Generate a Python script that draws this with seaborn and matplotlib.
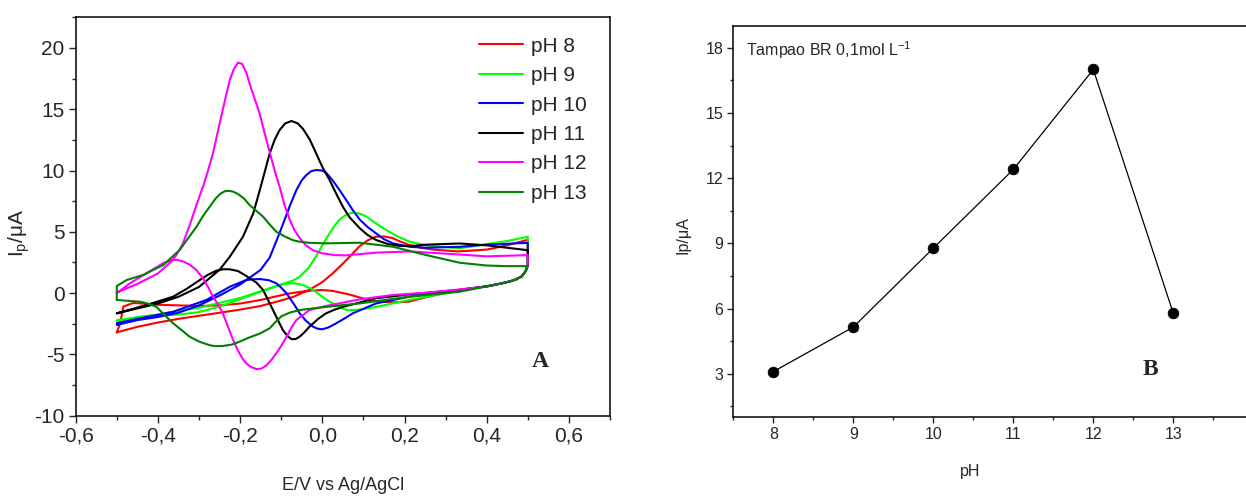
import numpy as np
import pandas as pd
import matplotlib
matplotlib.use("Agg")
import matplotlib.pyplot as plt
import seaborn as sns
from matplotlib.ticker import MultipleLocator

# ---------------- data ----------------
# Panel A: cyclic voltammograms (E in V, I in uA), forward sweep then reverse sweep
E_ph8 = [-0.5, -0.45, -0.4, -0.35, -0.3, -0.25, -0.2, -0.15, -0.1, -0.07, -0.03, 0.0, 0.025, 0.05, 0.07, 0.09,
         0.11, 0.13, 0.15, 0.17, 0.19, 0.21, 0.24, 0.27, 0.33, 0.4, 0.45, 0.5,
         0.5, 0.495, 0.485, 0.47, 0.456, 0.43, 0.4, 0.33, 0.27, 0.21, 0.18, 0.15, 0.12, 0.09, 0.07, 0.05, 0.025,
         0.0, -0.03, -0.06, -0.087, -0.15, -0.2, -0.25, -0.3, -0.35, -0.4, -0.46, -0.484, -0.492, -0.5]
I_ph8 = [-3.2, -2.75, -2.4, -2.1, -1.85, -1.6, -1.35, -1.05, -0.6, -0.3, 0.3, 0.9, 1.6, 2.4, 3.1, 3.8,
         4.3, 4.6, 4.62, 4.5, 4.2, 3.95, 3.7, 3.55, 3.4, 3.55, 3.9, 4.35,
         2.3, 1.8, 1.36, 1.1, 0.95, 0.75, 0.55, 0.25, -0.2, -0.7, -0.75, -0.72, -0.6, -0.35, -0.15, 0.0, 0.18,
         0.25, 0.2, 0.07, -0.07, -0.56, -0.85, -1.0, -1.05, -1.0, -0.95, -0.8, -1.1, -2.5, -3.2]

E_ph9 = [-0.5, -0.45, -0.4, -0.35, -0.3, -0.25, -0.2, -0.15, -0.1, -0.07, -0.055, -0.035, -0.015, 0.0, 0.018,
         0.03, 0.042, 0.058, 0.074, 0.09, 0.107, 0.13, 0.155, 0.185, 0.212, 0.252, 0.334, 0.4, 0.45, 0.5,
         0.5, 0.495, 0.485, 0.47, 0.456, 0.43, 0.4, 0.334, 0.212, 0.131, 0.09, 0.06, 0.04, 0.018, 0.0, -0.015,
         -0.03, -0.047, -0.063, -0.079, -0.095, -0.112, -0.13, -0.152, -0.2, -0.25, -0.3, -0.35, -0.4, -0.45, -0.5]
I_ph9 = [-2.3, -1.95, -1.75, -1.45, -1.2, -0.8, -0.4, 0.15, 0.7, 1.05, 1.34, 2.0, 3.0, 3.9, 4.9,
         5.5, 6.0, 6.4, 6.56, 6.5, 6.25, 5.7, 5.15, 4.6, 4.2, 3.9, 3.65, 4.0, 4.25, 4.6,
         2.3, 1.8, 1.36, 1.1, 0.95, 0.75, 0.55, 0.2, -0.56, -1.12, -1.35, -1.4, -1.1, -0.7, -0.3, 0.1,
         0.4, 0.66, 0.78, 0.8, 0.72, 0.58, 0.35, 0.1, -0.5, -1.1, -1.55, -1.75, -1.85, -2.0, -2.2]

E_ph10 = [-0.5, -0.45, -0.4, -0.35, -0.3, -0.25, -0.2, -0.15, -0.128, -0.104, -0.092, -0.078, -0.063, -0.05,
          -0.039, -0.027, -0.015, 0.0, 0.01, 0.025, 0.042, 0.058, 0.074, 0.091, 0.11, 0.131, 0.15, 0.172, 0.212,
          0.252, 0.334, 0.4, 0.5,
          0.5, 0.495, 0.485, 0.47, 0.456, 0.43, 0.4, 0.334, 0.212, 0.131, 0.074, 0.055, 0.034, 0.015, 0.0, -0.012,
          -0.023, -0.04, -0.055, -0.07, -0.087, -0.1, -0.112, -0.13, -0.152, -0.17, -0.185, -0.225, -0.282,
          -0.363, -0.444, -0.5]
I_ph10 = [-2.6, -2.2, -1.95, -1.6, -1.0, -0.2, 0.7, 1.9, 2.9, 4.9, 5.96, 7.2, 8.41, 9.2,
          9.63, 9.95, 10.04, 10.0, 9.8, 9.2, 8.41, 7.6, 6.78, 6.0, 5.4, 4.87, 4.4, 4.06, 3.78,
          3.7, 3.78, 3.95, 4.1,
          2.3, 1.8, 1.36, 1.1, 0.95, 0.75, 0.55, 0.26, -0.29, -0.84, -1.65, -2.05, -2.46, -2.8, -2.95, -2.9,
          -2.73, -2.25, -1.65, -0.85, -0.02, 0.45, 0.8, 1.05, 1.15, 1.12, 1.07, 0.52, -0.56,
          -1.52, -2.06, -2.46]

E_ph11 = [-0.5, -0.45, -0.4, -0.35, -0.3, -0.25, -0.225, -0.193, -0.168, -0.152, -0.14, -0.128, -0.116, -0.104,
          -0.09, -0.075, -0.06, -0.047, -0.03, -0.015, 0.0, 0.018, 0.034, 0.05, 0.066, 0.091, 0.11, 0.131, 0.16,
          0.188, 0.22, 0.252, 0.334, 0.4, 0.45, 0.5,
          0.5, 0.495, 0.485, 0.47, 0.456, 0.43, 0.4, 0.334, 0.212, 0.131, 0.05, 0.03, 0.009, -0.01, -0.031,
          -0.045, -0.055, -0.065, -0.075, -0.085, -0.096, -0.108, -0.12, -0.132, -0.144, -0.16, -0.185, -0.205,
          -0.225, -0.24, -0.258, -0.278, -0.298, -0.33, -0.363, -0.428, -0.5]
I_ph11 = [-1.65, -1.25, -0.85, -0.3, 0.5, 1.9, 2.97, 4.6, 6.51, 8.41, 9.9, 11.4, 12.5, 13.3,
          13.85, 14.04, 13.85, 13.4, 12.5, 11.4, 10.3, 9.2, 8.1, 7.05, 6.2, 5.3, 4.75, 4.33, 4.0,
          3.85, 3.85, 3.95, 4.05, 3.9, 3.7, 3.5,
          2.3, 1.8, 1.36, 1.1, 0.95, 0.75, 0.55, 0.26, -0.1, -0.42, -1.12, -1.35, -1.65, -2.1, -2.73,
          -3.25, -3.55, -3.75, -3.75, -3.5, -3.01, -2.2, -1.38, -0.55, 0.25, 0.85, 1.4, 1.8,
          1.94, 1.95, 1.83, 1.5, 1.07, 0.35, -0.29, -0.97, -1.65]

E_ph12 = [-0.5, -0.45, -0.4, -0.37, -0.355, -0.339, -0.32, -0.305, -0.29, -0.278, -0.266, -0.256, -0.246,
          -0.235, -0.225, -0.215, -0.205, -0.195, -0.185, -0.177, -0.165, -0.152, -0.14, -0.128, -0.116, -0.104,
          -0.092, -0.079, -0.067, -0.055, -0.04, -0.023, 0.0, 0.03, 0.058, 0.131, 0.212, 0.334, 0.4, 0.5,
          0.5, 0.495, 0.485, 0.47, 0.456, 0.43, 0.4, 0.334, 0.252, 0.172, 0.091, 0.009, -0.031, -0.063, -0.075,
          -0.087, -0.1, -0.112, -0.125, -0.136, -0.148, -0.16, -0.172, -0.183, -0.193, -0.205, -0.217, -0.23,
          -0.242, -0.254, -0.266, -0.278, -0.29, -0.307, -0.323, -0.34, -0.355, -0.37, -0.387, -0.428, -0.468,
          -0.5]
I_ph12 = [0.05, 0.75, 1.6, 2.5, 3.1, 4.06, 5.8, 7.3, 8.7, 10.0, 11.4, 12.9, 14.4,
          16.0, 17.4, 18.3, 18.8, 18.7, 18.0, 17.1, 15.9, 14.6, 13.0, 11.5, 10.0, 8.7,
          7.2, 5.96, 5.1, 4.5, 3.9, 3.5, 3.25, 3.1, 3.08, 3.3, 3.4, 3.15, 3.0, 3.1,
          2.3, 1.8, 1.36, 1.1, 0.95, 0.75, 0.55, 0.3, 0.03, -0.15, -0.51, -1.05, -1.38, -2.19, -2.8,
          -3.56, -4.3, -4.91, -5.5, -5.9, -6.15, -6.2, -6.05, -5.8, -5.4, -4.7, -3.83, -2.7,
          -1.65, -0.9, -0.29, 0.5, 1.2, 1.9, 2.33, 2.6, 2.72, 2.65, 2.44, 1.62, 0.8,
          0.0]

E_ph13 = [-0.5, -0.5, -0.476, -0.436, -0.387, -0.347, -0.306, -0.29, -0.274, -0.26, -0.249, -0.238, -0.229,
          -0.217, -0.205, -0.19, -0.177, -0.16, -0.144, -0.128, -0.112, -0.09, -0.07, -0.055, -0.03, 0.01, 0.091,
          0.172, 0.252, 0.334, 0.4, 0.45, 0.5,
          0.5, 0.495, 0.485, 0.47, 0.456, 0.43, 0.4, 0.334, 0.212, 0.091, 0.009, -0.055, -0.08, -0.1, -0.115,
          -0.128, -0.152, -0.18, -0.202, -0.22, -0.242, -0.26, -0.274, -0.3, -0.323, -0.343, -0.363, -0.385,
          -0.404, -0.425, -0.444, -0.5]
I_ph13 = [-0.56, 0.58, 1.07, 1.48, 2.29, 3.52, 5.42, 6.3, 7.05, 7.7, 8.08, 8.3, 8.35,
          8.28, 8.08, 7.7, 7.19, 6.7, 6.23, 5.6, 5.01, 4.6, 4.3, 4.19, 4.1, 4.06, 4.11,
          3.78, 3.11, 2.48, 2.25, 2.2, 2.2,
          2.2, 1.8, 1.36, 1.1, 0.95, 0.75, 0.55, 0.11, -0.29, -0.84, -1.12, -1.38, -1.6, -1.9, -2.4,
          -2.87, -3.3, -3.65, -3.97, -4.2, -4.31, -4.33, -4.25, -3.95, -3.55, -3.0, -2.46, -1.75,
          -1.11, -0.85, -0.7, -0.56]

cv_labels = ["pH 8", "pH 9", "pH 10", "pH 11", "pH 12", "pH 13"]
cv_colors = ["#ff0000", "#00ff00", "#0000ff", "#000000", "#ff00ff", "#007f00"]

# Panel B: peak current vs pH
ph_values = [8, 9, 10, 11, 12, 13]
ip_values = [3.1, 5.15, 8.78, 12.4, 17.0, 5.78]

# ---------------- build frames ----------------
E_all = [E_ph8, E_ph9, E_ph10, E_ph11, E_ph12, E_ph13]
I_all = [I_ph8, I_ph9, I_ph10, I_ph11, I_ph12, I_ph13]
frames = []
for lab, e, i in zip(cv_labels, E_all, I_all):
    frames.append(pd.DataFrame({"E": e, "I": i, "pH": lab}))
cv_df = pd.concat(frames, ignore_index=True)
pk_df = pd.DataFrame({"pH": ph_values, "Ip": ip_values})

# ---------------- style ----------------
sns.set_style("ticks")
plt.rcParams["font.family"] = ["Liberation Sans", "DejaVu Sans"]
plt.rcParams["mathtext.fontset"] = "custom"
plt.rcParams["mathtext.rm"] = "Liberation Sans"
plt.rcParams["mathtext.it"] = "Liberation Sans"

W, H = 1246, 498
fig = plt.figure(figsize=(W / 100, H / 100), dpi=100)

def pos(l, t, r, b):
    return [l / W, 1 - b / H, (r - l) / W, (b - t) / H]

# ---------------- panel A ----------------
ax1 = fig.add_axes(pos(75.7, 17.3, 610, 415.7))
sns.lineplot(data=cv_df, x="E", y="I", hue="pH", hue_order=cv_labels, palette=cv_colors,
             sort=False, estimator=None, units="pH", lw=1.5, ax=ax1, legend=False)
lines = ax1.get_lines()
for ln in lines:
    ln.set_solid_joinstyle("round")
for lab, c in zip(cv_labels, cv_colors):
    ax1.plot([], [], color=c, lw=1.5, label=lab)
ax1.legend(loc="upper left", bbox_to_anchor=(0.74, 0.972), frameon=False, fontsize=15,
           handlelength=2.1, handletextpad=0.4, labelspacing=0.5, borderaxespad=0)

ax1.set_xlim(-0.6, 0.7)
ax1.set_ylim(-10, 22.5)
ax1.xaxis.set_minor_locator(MultipleLocator(0.1))
ax1.yaxis.set_minor_locator(MultipleLocator(2.5))
ax1.set_xticks([-0.6, -0.4, -0.2, 0.0, 0.2, 0.4, 0.6])
ax1.set_xticklabels(["-0,6", "-0,4", "-0,2", "0,0", "0,2", "0,4", "0,6"])
ax1.set_yticks([-10, -5, 0, 5, 10, 15, 20])
ax1.set_yticklabels(["-10", "-5", "0", "5", "10", "15", "20"])
ax1.tick_params(axis="both", which="major", direction="out", length=5, width=1, labelsize=15, pad=3)
ax1.tick_params(axis="both", which="minor", direction="out", length=3, width=1)
for s in ax1.spines.values():
    s.set_linewidth(1.1)
    s.set_color("black")
ax1.set_xlabel("E/V vs Ag/AgCl", fontsize=13)
ax1.set_ylabel("I$_\\mathregular{p}$/μA", fontsize=15)
ax1.xaxis.set_label_coords(0.5, -0.155)
ax1.yaxis.set_label_coords(-0.082, 0.46)
ax1.text(0.53, -5.6, "A", fontsize=17, fontweight="bold", family=["Liberation Serif", "DejaVu Serif"],
         ha="center", va="center")

# ---------------- panel B ----------------
ax2 = fig.add_axes(pos(733.3, 26, 1253.3, 417.3))
sns.lineplot(data=pk_df, x="pH", y="Ip", color="black", lw=0.9, ax=ax2, sort=False, estimator=None)
sns.scatterplot(data=pk_df, x="pH", y="Ip", color="black", s=60, edgecolor="black", linewidth=0.5,
                ax=ax2, zorder=3)
ax2.set_xlim(7.5, 14)
ax2.set_ylim(1, 19)
ax2.set_xticks([8, 9, 10, 11, 12, 13])
ax2.xaxis.set_minor_locator(MultipleLocator(0.5))
ax2.set_yticks([3, 6, 9, 12, 15, 18])
ax2.yaxis.set_minor_locator(MultipleLocator(1.5))
ax2.tick_params(axis="both", which="major", direction="out", length=4, width=1, labelsize=11.5, pad=3)
ax2.tick_params(axis="both", which="minor", direction="out", length=2.5, width=1)
for s in ax2.spines.values():
    s.set_linewidth(1.1)
    s.set_color("black")
ax2.set_xlabel("pH", fontsize=11.5)
ax2.set_ylabel("Ip/μA", fontsize=11.5)
ax2.xaxis.set_label_coords(0.455, -0.12)
ax2.yaxis.set_label_coords(-0.083, 0.466)
ax2.text(7.66, 17.9, "Tampao BR 0,1mol L$^{\\mathregular{-1}}$", fontsize=11.5, ha="left", va="center")
ax2.text(12.72, 3.2, "B", fontsize=17, fontweight="bold", family=["Liberation Serif", "DejaVu Serif"],
         ha="center", va="center")

fig.savefig("out.png", dpi=100)
